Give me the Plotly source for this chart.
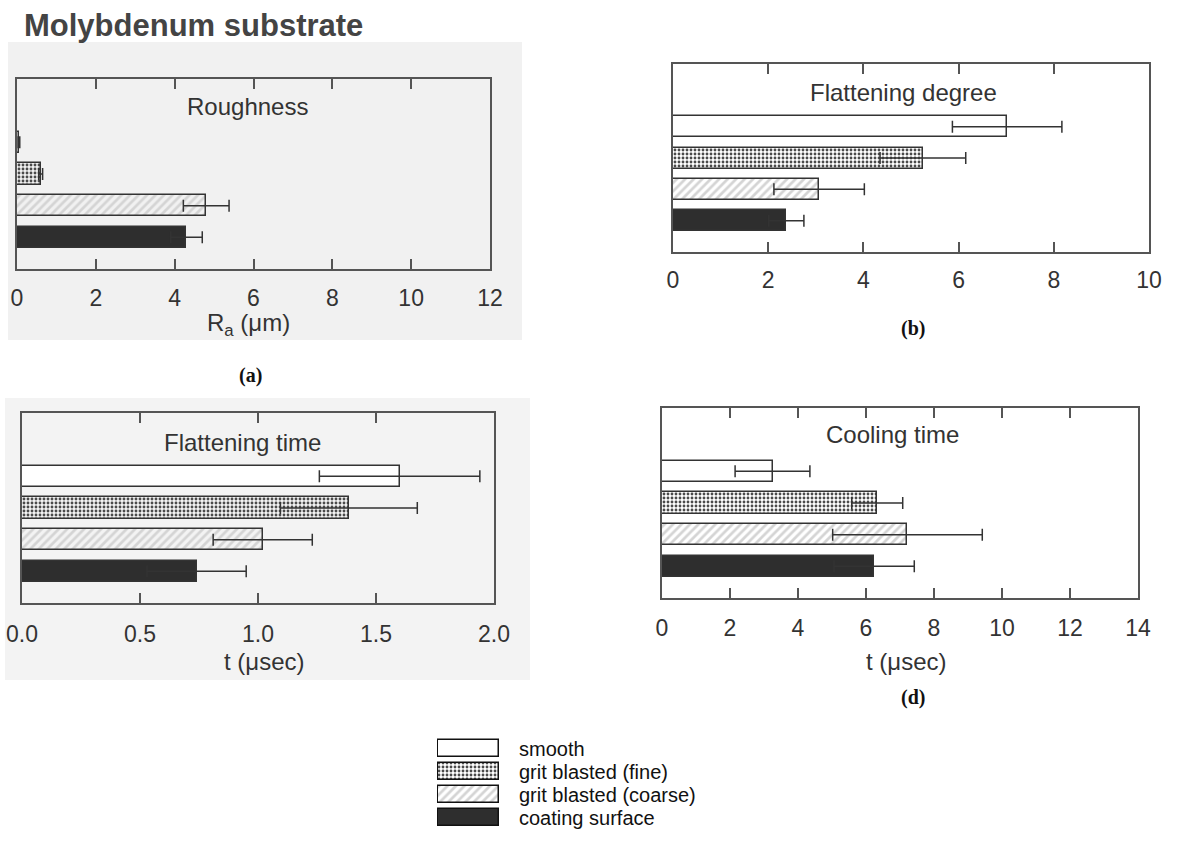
import plotly.graph_objects as go

W, H = 1183, 861

# ---------------- data ----------------
surfaces = ["smooth", "grit blasted (fine)", "grit blasted (coarse)", "coating surface"]

roughness = [0.05, 0.6, 4.8, 4.3]
roughness_err = [0.02, 0.05, 0.58, 0.4]

flat_degree = [7.02, 5.25, 3.07, 2.38]
flat_degree_err = [1.15, 0.9, 0.95, 0.37]

flat_time = [1.60, 1.385, 1.02, 0.74]
flat_time_err = [0.34, 0.29, 0.21, 0.21]

cool_time = [3.25, 6.33, 7.22, 6.24]
cool_time_err = [1.1, 0.75, 2.2, 1.18]

legend_len = [1, 1, 1, 1]

panel_titles = ["Roughness", "Flattening degree", "Flattening time", "Cooling time"]
axis_titles = ["R<sub>a</sub> (μm)", None, "t (μsec)", "t (μsec)"]
panel_labels = ["(a)", "(b)", None, "(d)"]
x_ranges = [[0, 12], [0, 10], [0, 2], [0, 14]]
x_dtick = [2, 2, 0.5, 2]
x_fmt = ["d", "d", ".1f", "d"]

# ---------------- styles ----------------
fill_colors = ["#ffffff", "#4a4a4a", "#d4d4d4", "#2e2e2e"]
pat_shapes = ["", ".", "/", ""]
pat_bg = ["#ffffff", "#4a4a4a", "#e2e2e2", "#2e2e2e"]
pat_fg = ["#ffffff", "#d0d0d0", "#303030", "#2e2e2e"]
pat_solid = [0.3, 0.4, 0.45, 0.3]
pat_size = 6
LINE = "#555555"
TXT = "#333333"
FONT = "Liberation Sans, Arial, sans-serif"


def px_x(v):
    return v / W


def px_y(v):
    return 1 - v / H


# plot box pixel extents (left, right, top, bottom)
boxes = [
    (17, 490, 79, 269),
    (673, 1149, 64, 252),
    (22, 494, 413, 603),
    (662, 1138, 408, 598),
]

fig = go.Figure()
datasets = [
    (roughness, roughness_err),
    (flat_degree, flat_degree_err),
    (flat_time, flat_time_err),
    (cool_time, cool_time_err),
]

for i, (vals, errs) in enumerate(datasets):
    n = i + 1
    fig.add_trace(go.Bar(
        x=vals, y=surfaces, orientation="h", width=0.67,
        xaxis=f"x{n}", yaxis=f"y{n}",
        marker=dict(color=fill_colors,
                    line=dict(color="#333333", width=1.5),
                    pattern=dict(shape=pat_shapes, bgcolor=pat_bg, fgcolor=pat_fg,
                                 size=[4, 4, pat_size, 4], solidity=pat_solid,
                                 fillmode="replace")),
        error_x=dict(type="data", array=errs, symmetric=True, color="#333333",
                     thickness=1.5, width=6),
        showlegend=False, hoverinfo="x+y",
    ))

# legend drawn as its own little bar axis
fig.add_trace(go.Bar(
    x=legend_len, y=surfaces, orientation="h", width=0.74,
    xaxis="x5", yaxis="y5", cliponaxis=False,
    marker=dict(color=fill_colors,
                line=dict(color="#111111", width=1.5),
                pattern=dict(shape=pat_shapes, bgcolor=pat_bg, fgcolor=pat_fg,
                             size=[4, 4, pat_size, 4], solidity=pat_solid,
                             fillmode="replace")),
    showlegend=False, hoverinfo="y",
))

layout = dict(
    width=W, height=H, margin=dict(l=0, r=0, t=0, b=0, autoexpand=False),
    paper_bgcolor="white", plot_bgcolor="rgba(0,0,0,0)",
    font=dict(family=FONT, color=TXT), showlegend=False,
    bargap=0,
)

standoffs = [8, 7, 10, 9]
for i, (l, r, t, b) in enumerate(boxes):
    n = i + 1
    xa = "xaxis" if n == 1 else f"xaxis{n}"
    ya = "yaxis" if n == 1 else f"yaxis{n}"
    layout[xa] = dict(
        domain=[px_x(l), px_x(r)], anchor=f"y{n}", range=x_ranges[i],
        dtick=x_dtick[i], tick0=0, tickformat=x_fmt[i], automargin=False,
        showline=True, linecolor=LINE, linewidth=1.5, mirror="ticks",
        ticks="inside", ticklen=10, tickwidth=1.5, tickcolor=LINE,
        showgrid=False, zeroline=False,
        tickfont=dict(size=23, color=TXT, family=FONT), ticklabelstandoff=standoffs[i],
    )
    layout[ya] = dict(
        domain=[px_y(b), px_y(t)], anchor=f"x{n}", type="category", automargin=False,
        categoryorder="array", categoryarray=surfaces[::-1], range=[-1, 5],
        showline=True, linecolor=LINE, linewidth=1.5, mirror=True,
        ticks="", showticklabels=False, showgrid=False, zeroline=False,
    )

layout["xaxis5"] = dict(domain=[px_x(437), px_x(500)], anchor="y5", range=[-0.02, 1.02],
                        visible=False, fixedrange=True, automargin=False)
layout["yaxis5"] = dict(domain=[px_y(829), px_y(737)], anchor="x5", type="category",
                        categoryorder="array", categoryarray=surfaces, range=[3.5, -0.5],
                        visible=False, automargin=False)

fig.update_layout(**layout)

# scanned-paper grey behind left panels
shapes = [
    dict(type="rect", xref="paper", yref="paper", layer="below",
         x0=px_x(8), x1=px_x(522), y0=px_y(340), y1=px_y(42),
         fillcolor="#f1f1f1", line=dict(width=0)),
    dict(type="rect", xref="paper", yref="paper", layer="below",
         x0=px_x(5), x1=px_x(530), y0=px_y(680), y1=px_y(398),
         fillcolor="#f3f3f3", line=dict(width=0)),
]
fig.update_layout(shapes=shapes)

ann = []
ann.append(dict(text="<b>Molybdenum substrate</b>", x=px_x(22), y=px_y(26), xref="paper", yref="paper",
                xanchor="left", yanchor="middle", showarrow=False,
                font=dict(size=31, color="#444444", family=FONT)))

title_pos = [(247, 107), (903, 92), (242, 442), (892, 435)]
for i, (tx, ty) in enumerate(title_pos):
    ann.append(dict(text=panel_titles[i], x=px_x(tx), y=px_y(ty), xref="paper", yref="paper",
                    xanchor="center", yanchor="middle", showarrow=False,
                    font=dict(size=24, color=TXT, family=FONT)))

axis_title_pos = [(248, 324), None, (264, 661), (906, 661)]
for i, pos in enumerate(axis_title_pos):
    if pos is None or axis_titles[i] is None:
        continue
    ann.append(dict(text=axis_titles[i], x=px_x(pos[0]), y=px_y(pos[1]), xref="paper", yref="paper",
                    xanchor="center", yanchor="middle", showarrow=False,
                    font=dict(size=24, color=TXT, family=FONT)))

label_pos = [(250, 376), (913, 328), None, (913, 697)]
for i, pos in enumerate(label_pos):
    if pos is None or panel_labels[i] is None:
        continue
    ann.append(dict(text=f"<b>{panel_labels[i]}</b>", x=px_x(pos[0]), y=px_y(pos[1]),
                    xref="paper", yref="paper", xanchor="center", yanchor="middle",
                    showarrow=False,
                    font=dict(size=20, color="#111111", family="Liberation Serif, Times New Roman, serif")))

# legend labels, placed next to the legend swatches
for s in surfaces:
    ann.append(dict(text=s, x=1, y=s, xref="x5", yref="y5", xanchor="left", yanchor="middle",
                    xshift=19, showarrow=False, borderpad=0,
                    font=dict(size=20, color="#111111", family=FONT)))

fig.update_layout(annotations=ann)

fig.write_html("out.html")
